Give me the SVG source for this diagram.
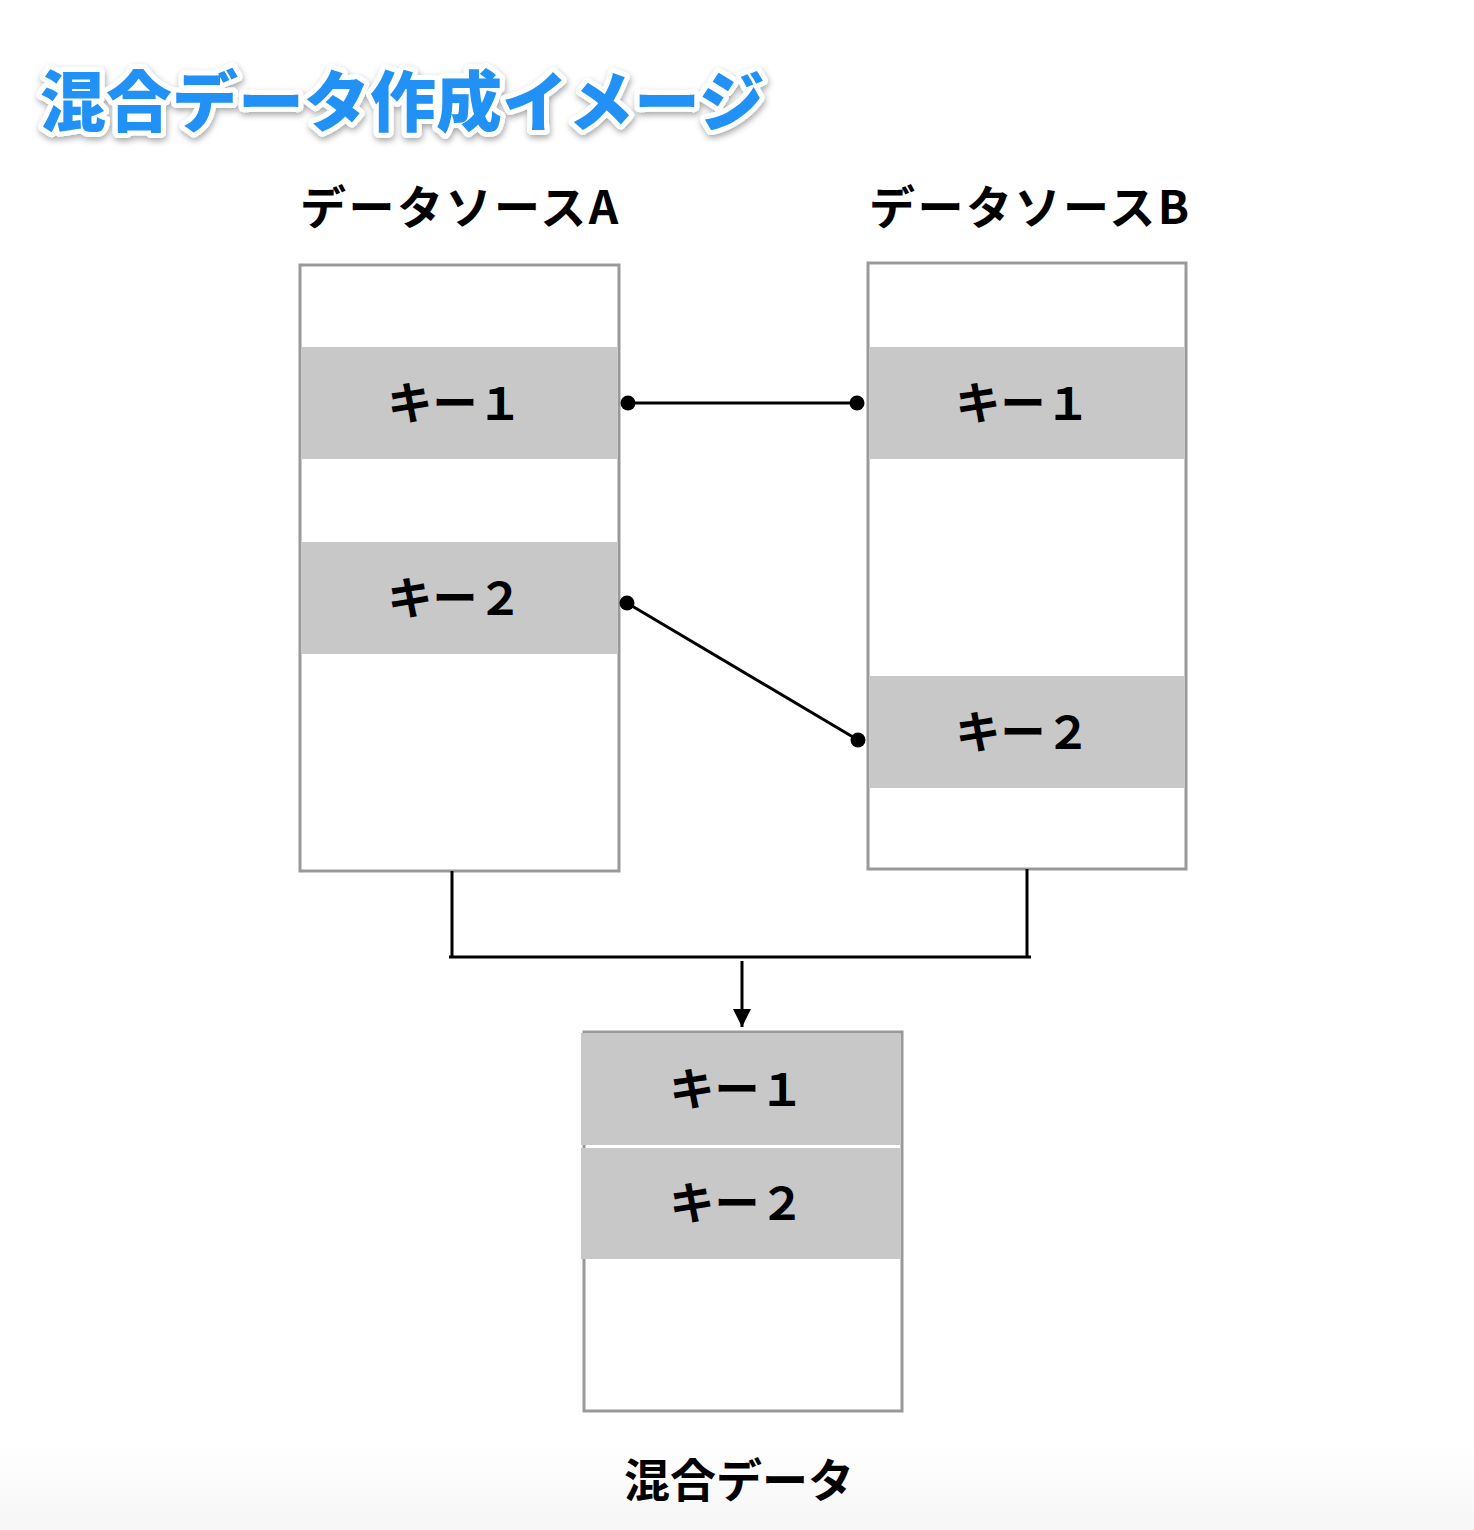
<svg xmlns="http://www.w3.org/2000/svg" width="1474" height="1530" viewBox="0 0 1474 1530">
<style>
.box{fill:#fff;stroke:#999;stroke-width:3}
.band{fill:#c8c8c8}
.lbl{font-family:"Noto Sans CJK JP","Noto Sans",sans-serif;font-weight:bold;font-size:46px;fill:#000}
.hdr{letter-spacing:2.5px}
.key{font-family:"Noto Sans CJK JP","Noto Sans",sans-serif;font-weight:bold;font-size:45px;fill:#000;text-anchor:middle}
.title{font-family:"Noto Sans CJK JP","Noto Sans",sans-serif;font-weight:900;font-size:66px;fill:#2391f5;stroke:#fff;stroke-width:10;stroke-linejoin:round;paint-order:stroke}
.conn{stroke:#000;stroke-width:3;fill:none}
</style>
<defs>
<linearGradient id="bg" x1="0" y1="0" x2="0" y2="1">
<stop offset="0" stop-color="#fff"/>
<stop offset="1" stop-color="#f6f6f6"/>
</linearGradient>
<filter id="sh" x="-5%" y="-20%" width="110%" height="150%">
<feDropShadow dx="1" dy="3" stdDeviation="3" flood-color="#000" flood-opacity="0.35"/>
</filter>
<marker id="arr" markerWidth="18" markerHeight="18" refX="18" refY="9" orient="auto" markerUnits="userSpaceOnUse" viewBox="0 0 18 18">
<path d="M0,0 L18,9 L0,18 Z" fill="#000"/>
</marker>
<marker id="dot" markerWidth="16" markerHeight="16" refX="8" refY="8" markerUnits="userSpaceOnUse">
<circle cx="8" cy="8" r="7.5" fill="#000"/>
</marker>
</defs>
<rect width="1474" height="1530" fill="#fff"/>
<rect x="0" y="1440" width="1474" height="90" fill="url(#bg)"/>

<g id="title">
<text class="title" x="40" y="126" filter="url(#sh)">混合データ作成イメージ</text>
</g>

<g id="sourceA">
<text class="lbl hdr" x="300" y="224">データソースA</text>
<rect class="box" x="300" y="265" width="319" height="606"/>
<rect class="band" x="302" y="347" width="315" height="112"/>
<rect class="band" x="302" y="542" width="315" height="112"/>
<text class="key" x="455" y="420">キー１</text>
<text class="key" x="455" y="615">キー２</text>
</g>

<g id="sourceB">
<text class="lbl hdr" x="869" y="224">データソースB</text>
<rect class="box" x="868" y="263" width="318" height="606"/>
<rect class="band" x="870" y="347" width="314" height="112"/>
<rect class="band" x="870" y="676" width="314" height="112"/>
<text class="key" x="1023" y="420">キー１</text>
<text class="key" x="1023" y="749">キー２</text>
</g>

<g id="merged">
<rect class="box" x="584" y="1032" width="318" height="379"/>
<rect class="band" x="581" y="1033" width="319" height="112"/>
<rect class="band" x="581" y="1148" width="319" height="111"/>
<text class="key" x="737" y="1106">キー１</text>
<text class="key" x="737" y="1220">キー２</text>
<text class="lbl" x="739" y="1497" text-anchor="middle">混合データ</text>
</g>

<g id="connectors">
<line class="conn" x1="628" y1="403" x2="857" y2="403" marker-start="url(#dot)" marker-end="url(#dot)"/>
<line class="conn" x1="627" y1="603" x2="858" y2="740" marker-start="url(#dot)" marker-end="url(#dot)"/>
<path class="conn" d="M452,871 V957 M1027,869 V957 M449,957 H1031"/>
<line x1="742" y1="961" x2="742" y2="1027" stroke="#000" stroke-width="3" marker-end="url(#arr)"/>
</g>
</svg>
